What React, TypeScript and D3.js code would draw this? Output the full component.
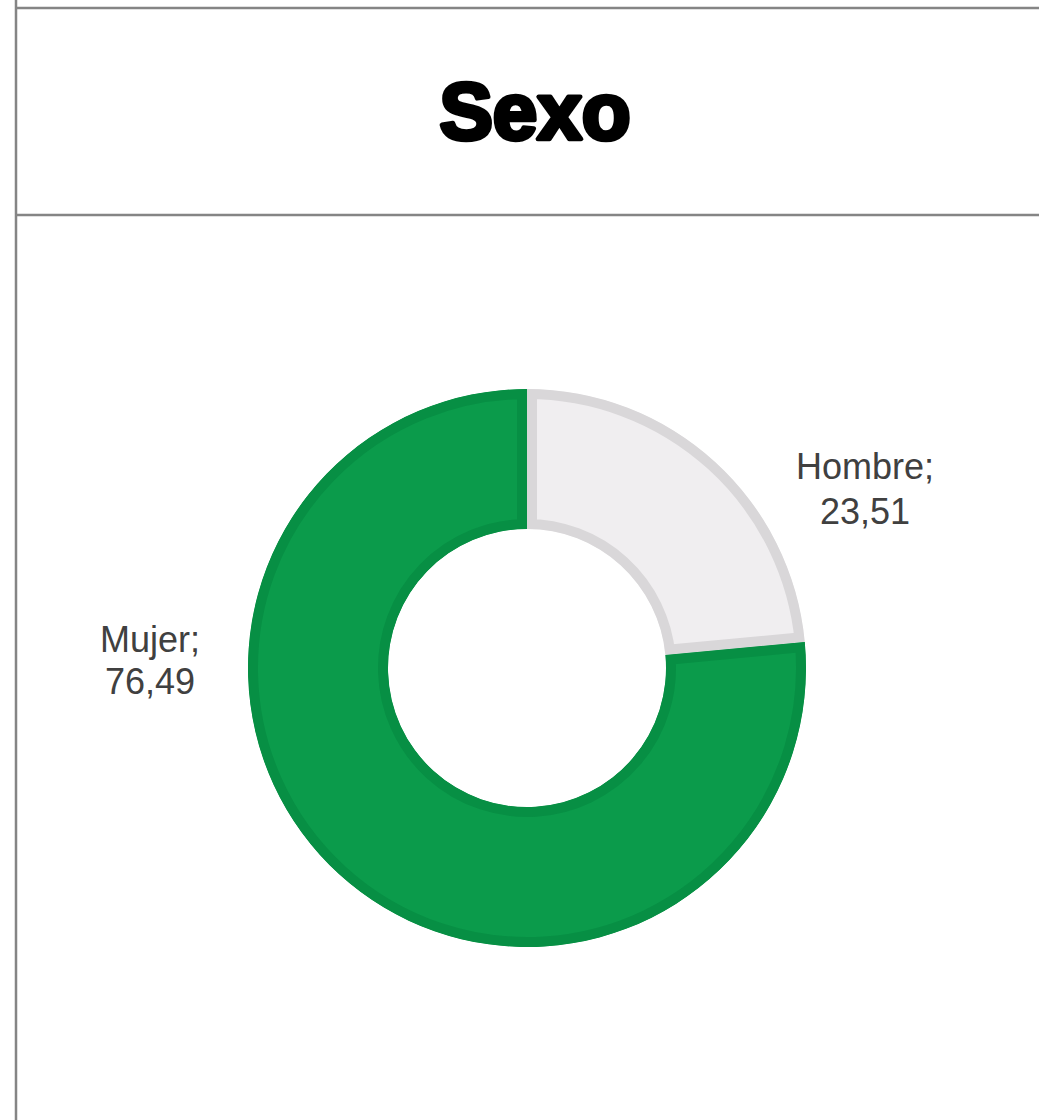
import React from "react";
import * as d3 from "d3";

const categories = ["Hombre", "Mujer"];
const values = [23.51, 76.49];
const fills = ["#f0eef0", "#0b9b4b"];
const strokes = ["#d9d7d9", "#078f44"];
const title = "Sexo";

const W = 1039;
const H = 1120;
const cx = 527;
const cy = 668;
const rOuter = 279;
const rInner = 139;

const labelPos: Record<string, { x: number; y1: number; y2: number }> = {
  Hombre: { x: 865, y1: 479, y2: 524 },
  Mujer: { x: 150, y1: 652, y2: 694 },
};

const fmt = (v: number) => v.toFixed(2).replace(".", ",");

export default function App() {
  const pie = d3.pie<number>().sort(null).value((d) => d);
  const arcs = pie(values);
  const arcGen = d3.arc<d3.PieArcDatum<number>>().innerRadius(rInner).outerRadius(rOuter);

  return (
    <svg
      width={W}
      height={H}
      style={{ position: "absolute", left: 0, top: 0, background: "#fff" }}
    >
      <line x1={16} y1={0} x2={16} y2={H} stroke="#858585" strokeWidth={2.5} />
      <line x1={16} y1={8} x2={W} y2={8} stroke="#858585" strokeWidth={2.5} />
      <line x1={16} y1={215} x2={W} y2={215} stroke="#858585" strokeWidth={2.5} />
      <text
        x={535}
        y={139}
        textAnchor="middle"
        fontFamily="'Liberation Sans', Arial, sans-serif"
        fontWeight="bold"
        fontSize={80}
        fill="#000"
        stroke="#000"
        strokeWidth={4.5}
        strokeLinejoin="round"
      >
        {title}
      </text>
      <defs>
        {arcs.map((a, i) => (
          <clipPath id={`clip-${i}`} key={i}>
            <path d={arcGen(a) || ""} transform={`translate(${cx},${cy})`} />
          </clipPath>
        ))}
      </defs>
      {arcs.map((a, i) => (
        <g key={categories[i]} clipPath={`url(#clip-${i})`}>
          <path
            d={arcGen(a) || ""}
            transform={`translate(${cx},${cy})`}
            fill={fills[i]}
            stroke={strokes[i]}
            strokeWidth={20}
          />
        </g>
      ))}
      {categories.map((c, i) => {
        const p = labelPos[c];
        return (
          <text
            key={c}
            textAnchor="middle"
            fontFamily="'Liberation Sans', Arial, sans-serif"
            fontSize={36}
            fill="#404040"
          >
            <tspan x={p.x} y={p.y1}>{c};</tspan>
            <tspan x={p.x} y={p.y2}>{fmt(values[i])}</tspan>
          </text>
        );
      })}
    </svg>
  );
}
